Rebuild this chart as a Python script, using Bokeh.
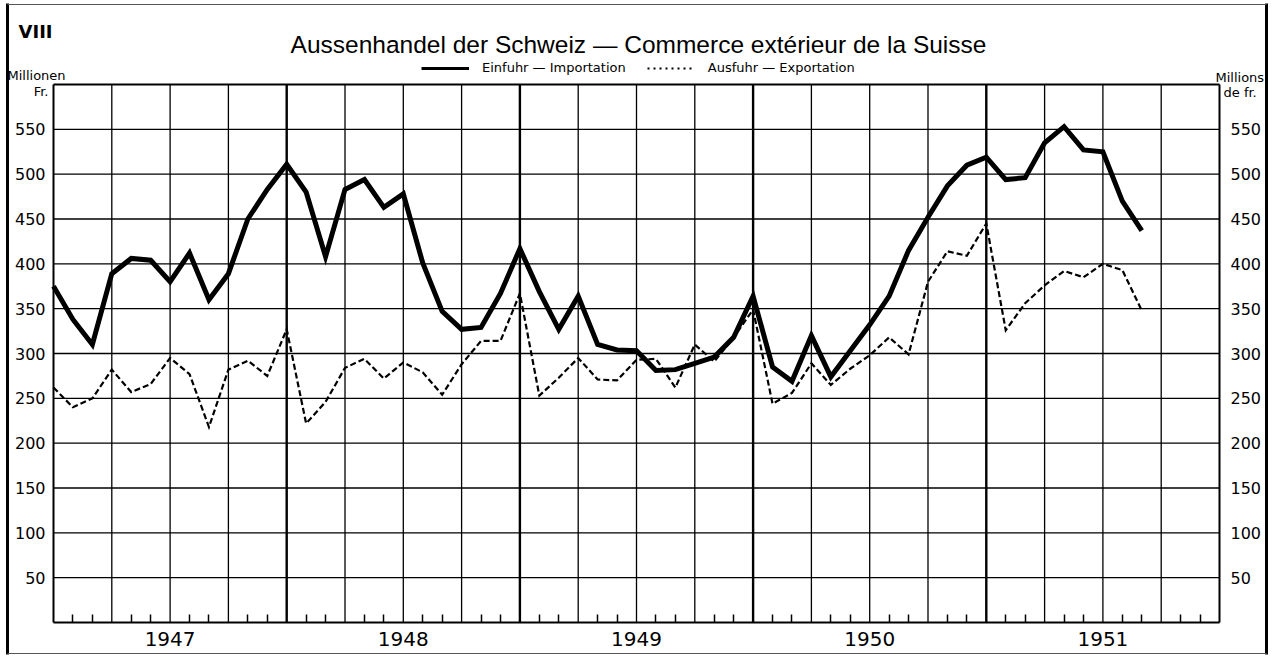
from bokeh.plotting import figure
from bokeh.models import (Range1d, FixedTicker, LinearAxis, Label, Legend,
                          LegendItem, ColumnDataSource)
from bokeh.embed import file_html
from bokeh.resources import INLINE

# ---------------- data (millions of francs, monthly, Dec 1946 .. Aug 1951) -------------
months = (["1946-12"]
          + [f"1947-{i:02d}" for i in range(1, 13)]
          + [f"1948-{i:02d}" for i in range(1, 13)]
          + [f"1949-{i:02d}" for i in range(1, 13)]
          + [f"1950-{i:02d}" for i in range(1, 13)]
          + [f"1951-{i:02d}" for i in range(1, 9)])

imports = [375,
           338, 310, 389, 406, 404, 380, 412, 360, 389, 450, 483, 511,
           480, 408, 483, 494, 463, 478, 401, 347, 327, 329, 367, 417,
           369, 327, 364, 310, 304, 303, 281, 282, 289, 296, 318, 364,
           285, 269, 320, 274, 303, 332, 364, 415, 452, 487, 510, 519,
           494, 496, 535, 553, 527, 525, 470, 437]

exports = [262,
           240, 250, 282, 257, 266, 295, 277, 218, 282, 292, 275, 327,
           222, 246, 284, 294, 272, 290, 279, 254, 288, 314, 314, 367,
           253, 273, 295, 271, 270, 293, 294, 262, 310, 291, 318, 349,
           244, 256, 289, 265, 283, 298, 318, 299, 380, 414, 409, 445,
           326, 356, 376, 392, 385, 400, 393, 348]

years = ["1947", "1948", "1949", "1950", "1951"]
y_ticks = [50, 100, 150, 200, 250, 300, 350, 400, 450, 500, 550]
Y_MAX = 600
N_MONTHS = 60

title_text = "Aussenhandel der Schweiz — Commerce extérieur de la Suisse"
label_imp = "Einfuhr — Importation"
label_exp = "Ausfuhr — Exportation"

# ---------------- layout helpers (screen px -> data units) ----------------
W, H = 1277, 656
PL, PR, PT, PB = 53, 1219, 84, 622          # plot rectangle on the page
XPX = (PR - PL) / N_MONTHS
YPX = (PB - PT) / Y_MAX
def dx(sx): return (sx - PL) / XPX
def dy(sy): return (PB - sy) / YPX

m_idx = list(range(len(months)))
year_centres = [6 + 12 * i for i in range(len(years))]
year_bounds = [12 * i for i in range(1, len(years))]
quarter_lines = [q for q in range(3, N_MONTHS, 3) if q % 12 != 0]
month_ticks = [m for m in range(1, N_MONTHS) if m % 3 != 0]

src = ColumnDataSource(dict(m=m_idx, imp=imports, exp=exports))

FONT = "DejaVu Sans"

p = figure(width=W, height=H, x_range=Range1d(dx(0), dx(W)), y_range=Range1d(dy(H), dy(0)),
           output_backend="svg", toolbar_location=None,
           x_axis_location=None, y_axis_location=None,
           min_border=0, background_fill_color="white", border_fill_color="white")
for g in p.grid:
    g.visible = False
p.outline_line_color = None

# ---------------- grid (drawn through the data scales) ----------------
p.segment(x0=quarter_lines, y0=[0] * len(quarter_lines), x1=quarter_lines,
          y1=[Y_MAX] * len(quarter_lines), line_color="black", line_width=1.3)
p.segment(x0=year_bounds, y0=[0] * len(year_bounds), x1=year_bounds,
          y1=[Y_MAX] * len(year_bounds), line_color="black", line_width=2.4)
p.segment(x0=[0] * len(y_ticks), y0=y_ticks, x1=[N_MONTHS] * len(y_ticks), y1=y_ticks,
          line_color="black", line_width=1.3)
# plot border
p.segment(x0=[0, N_MONTHS, 0], y0=[0, 0, Y_MAX], x1=[0, N_MONTHS, N_MONTHS],
          y1=[Y_MAX, Y_MAX, Y_MAX], line_color="black", line_width=2)
# outer frame of the sheet
p.segment(x0=[dx(7), dx(1266)], y0=[dy(3), dy(3)], x1=[dx(7), dx(1266)], y1=[dy(654), dy(654)],
          line_color="black", line_width=3)
p.segment(x0=[dx(7), dx(7)], y0=[dy(4), dy(653)], x1=[dx(1266), dx(1266)], y1=[dy(4), dy(653)],
          line_color="#555555", line_width=1.2)

# ---------------- axes (fixed inside the frame) ----------------
def yaxis(loc, standoff):
    return LinearAxis(fixed_location=loc, bounds=(0, Y_MAX),
                      ticker=FixedTicker(ticks=y_ticks), major_tick_in=0, major_tick_out=0,
                      minor_tick_in=0, minor_tick_out=0, axis_line_color=None,
                      major_label_standoff=standoff, major_label_text_font=FONT,
                      major_label_text_font_size="16px", major_label_text_color="black")

p.add_layout(yaxis(0, 8), "left")
p.add_layout(yaxis(N_MONTHS, 11), "right")

xaxis = LinearAxis(fixed_location=0, bounds=(0, N_MONTHS),
                   ticker=FixedTicker(ticks=year_centres, minor_ticks=month_ticks),
                   major_label_overrides={c: y for c, y in zip(year_centres, years)},
                   major_tick_in=0, major_tick_out=0, minor_tick_in=8, minor_tick_out=0,
                   minor_tick_line_color="black", minor_tick_line_width=1.5,
                   axis_line_color="black", axis_line_width=2.2,
                   major_label_standoff=9, major_label_text_font=FONT,
                   major_label_text_font_size="20px", major_label_text_color="black")
p.add_layout(xaxis, "below")

# ---------------- series ----------------
p.line(x="m", y="imp", source=src, line_color="black", line_width=5, line_join="miter")
p.line(x="m", y="exp", source=src, line_color="black", line_width=2.2, line_dash="6 3",
       line_join="miter")

# ---------------- legend (off-canvas dummies carry the legend styling) ----------------
far = [dx(-200), dx(-190)]
r1 = p.line(x=far, y=[0, 0], line_color="black", line_width=3)
r2 = p.line(x=far, y=[0, 0], line_color="black", line_width=2, line_dash="2 4")
legend = Legend(items=[LegendItem(label=label_imp, renderers=[r1]),
                       LegendItem(label=label_exp, renderers=[r2])],
                location=(421, H - 75), orientation="horizontal",
                background_fill_alpha=0, border_line_alpha=0,
                label_text_font=FONT, label_text_font_size="13px",
                label_text_color="black", glyph_width=48, glyph_height=14, label_height=14,
                label_standoff=13, spacing=21, padding=0, margin=0)
p.add_layout(legend)

# ---------------- texts ----------------
def lab(sx, sy, text, align, size, font=FONT, style="normal"):
    p.add_layout(Label(x=dx(sx), y=dy(sy), text=text, text_align=align,
                       text_baseline="middle", text_font=font, text_font_size=size,
                       text_font_style=style, text_color="black"))

lab(638, 44, title_text, "center", "24.5px", font="Liberation Sans")
lab(18, 31, "VIII", "left", "18px", style="bold")
lab(7, 75, "Millionen", "left", "13px")
lab(48, 91, "Fr.", "right", "13px")
lab(1215, 77, "Millions", "left", "13px")
lab(1223, 92, "de fr.", "left", "13px")

open("out.html", "w").write(file_html(p, INLINE))
